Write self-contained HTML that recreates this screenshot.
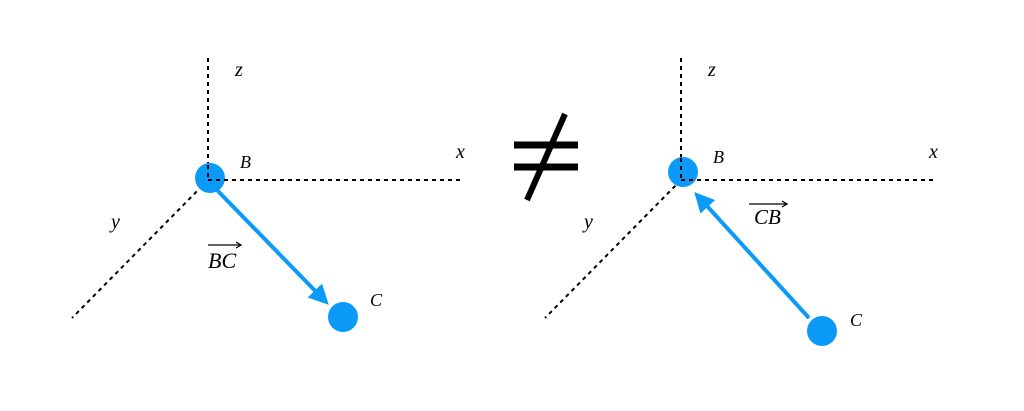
<!DOCTYPE html>
<html><head><style>body{margin:0;background:#fff}</style></head><body>
<svg width="1024" height="406" xmlns="http://www.w3.org/2000/svg" font-family="Liberation Serif, serif" font-style="italic">
<defs><marker id="a" markerWidth="6" markerHeight="6" refX="4" refY="3" orient="auto" markerUnits="strokeWidth"><path d="M0,0.5 L5,3 L0,5.5 Z" fill="#0c9af8"/></marker></defs>
<g stroke="#000" stroke-width="2" stroke-dasharray="4,4" fill="none">
<line x1="208" y1="58" x2="208" y2="180"/><line x1="208" y1="180" x2="463" y2="180"/><line x1="208" y1="180" x2="72" y2="318"/>
<line x1="681" y1="58" x2="681" y2="180"/><line x1="681" y1="180" x2="936" y2="180"/><line x1="681" y1="180" x2="545" y2="318"/>
</g>
<circle cx="210" cy="178" r="15" fill="#0c9af8"/>
<circle cx="343" cy="317" r="15" fill="#0c9af8"/>
<circle cx="683" cy="172" r="15" fill="#0c9af8"/>
<circle cx="822" cy="331" r="15" fill="#0c9af8"/>
<g stroke="#000" stroke-width="2" stroke-dasharray="4,4"><line x1="208" y1="165" x2="208" y2="180"/><line x1="208" y1="180" x2="225" y2="180"/><line x1="681" y1="158" x2="681" y2="180"/><line x1="681" y1="180" x2="698" y2="180"/></g>
<line x1="215" y1="188" x2="326" y2="302" stroke="#0c9af8" stroke-width="4" marker-end="url(#a)"/>
<line x1="809" y1="318" x2="697" y2="195" stroke="#0c9af8" stroke-width="4" marker-end="url(#a)"/>
<g font-size="20" fill="#000">
<text x="235" y="76">z</text><text x="240" y="168" font-size="18">B</text><text x="456" y="158">x</text><text x="111" y="228">y</text><text x="370" y="306" font-size="18">C</text>
<text x="208" y="268" font-size="22">BC</text>
<text x="708" y="76">z</text><text x="713" y="163" font-size="18">B</text><text x="929" y="158">x</text><text x="584" y="228">y</text><text x="850" y="326" font-size="18">C</text>
<text x="754" y="224" font-size="21">CB</text>
</g>
<line x1="208" y1="245" x2="240" y2="245" stroke="#000" stroke-width="1.3"/><path d="M236,242 L241,245 L236,248" fill="none" stroke="#000" stroke-width="1.3"/>
<line x1="749" y1="204" x2="786" y2="204" stroke="#000" stroke-width="1.3"/><path d="M782,201 L787,204 L782,207" fill="none" stroke="#000" stroke-width="1.3"/>
<g stroke="#000" stroke-width="7"><line x1="514" y1="145" x2="578" y2="145"/><line x1="514" y1="167" x2="578" y2="167"/></g>
<line x1="565" y1="114" x2="527" y2="200" stroke="#000" stroke-width="6"/>
</svg>
</body></html>
